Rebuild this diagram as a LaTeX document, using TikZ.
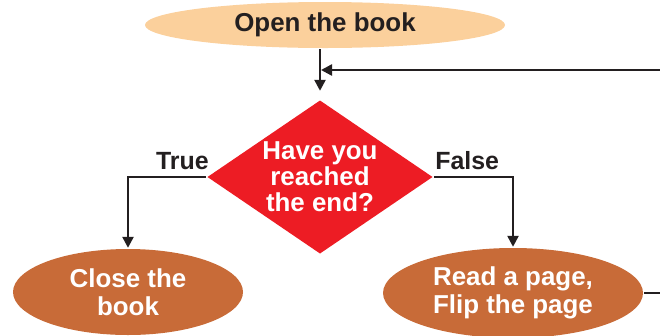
\documentclass[tikz,border=0pt]{standalone}
\usepackage{fontspec}
\setmainfont{Liberation Sans}
\usetikzlibrary{
    arrows.meta,
    positioning,
    calc,
    shapes.geometric
}
\definecolor{peach}{HTML}{FBD09C}
\definecolor{decred}{HTML}{ED1C24}
\definecolor{rust}{HTML}{C86B38}
\definecolor{ink}{HTML}{231F20}

\begin{document}
\begin{tikzpicture}[
    x=1bp, y=-1bp,
    >={Triangle[width=11bp, length=11bp]},
    line width=2.4bp, draw=ink
]

% ---------------------------------------------------------
% Styles
% ---------------------------------------------------------
\tikzset{
    start_node/.style={
        ellipse, fill=peach, inner sep=0pt, text=ink,
        minimum width=360bp, minimum height=46bp,
        font=\fontsize{26}{26}\selectfont\bfseries
    },
    step_node/.style={
        ellipse, fill=rust, inner sep=0pt, text=white, align=center,
        font=\fontsize{26}{28}\selectfont\bfseries
    },
    test_node/.style={
        diamond, aspect=1.47, fill=decred, inner sep=-8bp,
        text=white, align=center,
        minimum width=226bp, minimum height=154bp,
        font=\fontsize{26}{26}\selectfont\bfseries
    },
    lbl/.style={text=ink, inner sep=0pt, font=\fontsize{25}{25}\selectfont\bfseries},
    flow/.style={->, draw=ink}
}

\useasboundingbox (0,0) rectangle (660,335);

% ---------------------------------------------------------
% Nodes
% ---------------------------------------------------------
\node[start_node] (Open) at (325,25) {Open the book};
\node[test_node] (Reached) at (320,177) {Have you\\reached\\the end?};
\node[step_node, minimum width=230bp, minimum height=86bp] (Close) at (128,292) {Close the\\book};
\node[step_node, minimum width=260bp, minimum height=90bp] (Read) at (513,293) {Read a page,\\Flip the page};

% Branch labels
\node[lbl, anchor=base east] (True) at ($(Reached.west)+(4,-8)$) {True};
\node[lbl, anchor=base west] (False) at ($(Reached.east)+(0,-8)$) {False};

% ---------------------------------------------------------
% Connectors
% ---------------------------------------------------------
\coordinate (Merge) at (Reached.north |- 0,70);

\draw[flow, shorten >=8bp] (Reached.north |- Open.south) -- (Reached.north);
\draw[flow] (Reached.west) -- (Close.north |- Reached.west) -- (Close.north);
\draw[flow] (Reached.east) -- (Read.north |- Reached.east) -- (Read.north);

% loop back from the page step (runs off the right edge)
\draw[flow, shorten >=1bp] (Read.east) -- ++(30,0) |- (Merge);

\end{tikzpicture}
\end{document}
